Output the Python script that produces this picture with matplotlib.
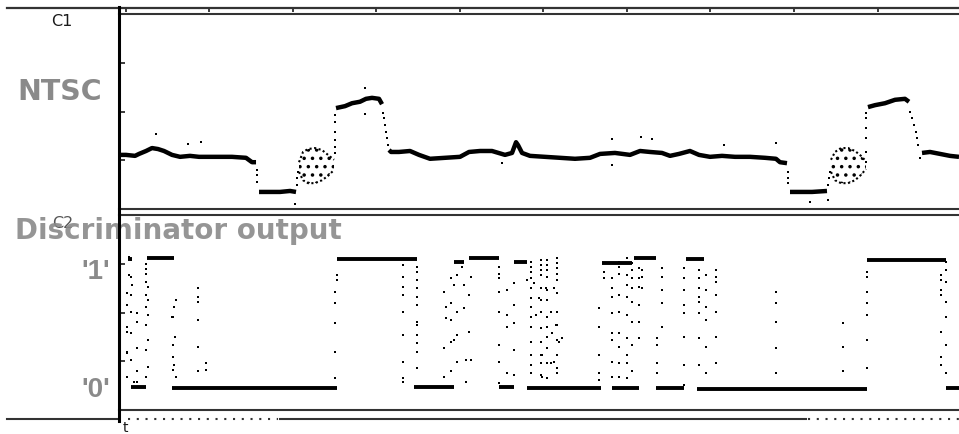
import numpy as np
import matplotlib
matplotlib.use("Agg")
import matplotlib.pyplot as plt
from matplotlib.lines import Line2D

nan = np.nan

# channel 1: NTSC line, time in microseconds, amplitude in divisions
ntsc_t = [-0.84, 0.00, 1.08, 1.56, 2.40, 3.11, 3.83, 4.55, 5.51, 6.47, 7.66, 8.74,
          10.06, 11.26, 12.69, 14.37, 15.09, 15.57, nan,
          15.93, 17.25, 18.44, 19.64, 20.36, nan,
          25.15, 26.23, 27.07, 28.02, 28.74, 29.46, 30.30, 30.66, nan,
          31.50, 31.74, 32.69, 34.01, 35.09, 36.41, 38.20, 40.00, 41.08, 42.40,
          43.83, 45.39, 46.23, 46.71, 46.95, 47.43, 48.38, 50.18, 51.98, 53.77,
          55.57, 56.77, 58.56, 60.36, 61.56, 62.75, 64.19, 65.15, 66.23, 67.54,
          68.62, 69.94, 71.38, 72.93, 74.73, 76.53, 77.84, 78.32, 79.16, nan,
          79.52, 80.72, 82.16, 83.95, nan,
          88.86, 89.70, 90.90, 92.10, 93.29, 93.77, nan,
          95.33, 96.29, 97.49, 98.68, 99.76]
ntsc_v = [1.11, 1.11, 1.09, 1.13, 1.19, 1.25, 1.23, 1.19, 1.11, 1.07, 1.09, 1.07,
          1.07, 1.07, 1.07, 1.05, 0.96, 0.96, nan,
          0.35, 0.35, 0.35, 0.37, 0.35, nan,
          2.07, 2.11, 2.17, 2.20, 2.26, 2.28, 2.26, 2.15, nan,
          1.21, 1.17, 1.17, 1.19, 1.11, 1.03, 1.05, 1.07, 1.17, 1.19,
          1.19, 1.11, 1.15, 1.37, 1.31, 1.15, 1.09, 1.07, 1.05, 1.03,
          1.05, 1.13, 1.15, 1.11, 1.19, 1.17, 1.15, 1.09, 1.13, 1.19,
          1.11, 1.07, 1.09, 1.07, 1.07, 1.05, 1.03, 0.96, 0.94, nan,
          0.35, 0.35, 0.35, 0.37, nan,
          2.09, 2.13, 2.17, 2.24, 2.26, 2.20, nan,
          1.15, 1.17, 1.13, 1.09, 1.07]

# colour burst envelopes (t, upper, lower)
burst1_t = [20.72, 21.20, 21.80, 22.63, 23.47, 24.19, 24.91]
burst1_hi = [0.96, 1.17, 1.23, 1.25, 1.21, 1.11, 1.01]
burst1_lo = [0.76, 0.59, 0.53, 0.53, 0.59, 0.68, 0.80]
burst2_t = [84.43, 84.91, 85.63, 86.47, 87.31, 88.02, 88.62]
burst2_hi = [1.01, 1.17, 1.25, 1.25, 1.19, 1.09, 0.98]
burst2_lo = [0.76, 0.59, 0.53, 0.53, 0.59, 0.70, 0.82]

# single samples on the edges and stray points
ntsc_dots = [(15.69, 0.80), (15.69, 0.70), (15.69, 0.55),
             (20.48, 0.49), (20.48, 0.64), (20.60, 0.76),
             (25.03, 1.15), (25.03, 1.27), (25.03, 1.42), (25.03, 1.58), (25.03, 1.78), (25.03, 1.93),
             (30.78, 1.97), (30.90, 1.87), (31.02, 1.72), (31.14, 1.58), (31.26, 1.46), (31.38, 1.31),
             (79.28, 0.76), (79.28, 0.64), (79.28, 0.53),
             (84.07, 0.49), (84.19, 0.64), (84.31, 0.76),
             (88.62, 0.96), (88.62, 1.17), (88.62, 1.46), (88.62, 1.66), (88.62, 1.87), (88.62, 1.97),
             (93.89, 1.99), (94.13, 1.87), (94.37, 1.72), (94.61, 1.58), (94.73, 1.46), (94.85, 1.31),
             (95.09, 1.05),
             (3.59, 1.54), (7.43, 1.33), (8.98, 1.37), (28.62, 2.48), (28.62, 1.95), (77.84, 1.35),
             (63.0, 1.44), (58.2, 1.44), (61.7, 1.48), (58.2, 0.90), (45.0, 0.94), (20.2, 0.10),
             (81.9, 0.14), (84.1, 0.18), (71.6, 1.31)]

# channel 2: discriminator output, settled '1' and '0' stretches (t0, t1, level)
disc_high = [(0.24, 0.72, 3.10), (2.51, 5.75, 3.12), (25.27, 34.85, 3.10), (39.28, 40.48, 3.04),
             (41.08, 44.67, 3.12), (46.47, 48.02, 3.04), (57.00, 60.60, 3.01), (60.84, 63.47, 3.12),
             (67.07, 69.22, 3.10), (88.74, 98.20, 3.08)]
disc_low = [(0.60, 2.40, 0.47), (5.51, 25.27, 0.45), (34.49, 39.28, 0.47), (44.67, 46.47, 0.47),
            (48.02, 56.89, 0.45), (58.20, 61.44, 0.45), (63.47, 66.83, 0.45), (68.38, 88.74, 0.43),
            (98.20, 99.76, 0.45)]

# samples caught during transitions: (t, levels)
disc_edges = [
    (0.16, [2.39, 2.15, 1.71, 1.61, 1.20, 1.16, 0.68]),
    (0.36, [3.14, 2.77]),
    (0.56, [3.08, 2.73, 2.36, 2.02, 1.57, 1.03]),
    (0.76, [2.56]), (0.96, [0.58]),
    (1.36, [1.98, 1.81, 1.27, 0.79, 0.58]),
    (2.40, [2.63, 2.36, 2.12, 1.74, 1.23, 0.68]),
    (2.44, [3.00, 2.90, 2.80]),
    (2.63, [2.53, 2.26, 1.95, 1.44, 0.89]),
    (5.51, [1.91]), (5.63, [1.91, 1.33, 1.09, 0.82]), (5.75, [2.12, 0.92]),
    (5.87, [1.50]), (5.99, [2.26, 0.68]),
    (8.62, [2.50, 2.32, 2.22, 1.85, 1.30, 0.79]),
    (9.58, [0.96, 0.82]),
    (25.03, [2.43, 2.19, 1.78, 1.20, 0.65]), (25.31, [2.77, 2.67]),
    (33.17, [2.97, 2.73, 2.53, 2.36, 2.02, 1.54, 0.99, 0.65, 0.58]),
    (34.89, [2.94, 2.84, 2.67, 2.50, 2.32, 2.15, 1.81, 1.74, 1.54, 1.37, 1.20, 0.86]),
    (38.08, [2.43, 1.27, 0.68]), (38.28, [2.12, 1.88]),
    (38.88, [2.70, 2.19, 1.85, 1.40, 0.79]), (39.28, [2.56, 1.44]),
    (39.68, [2.77, 2.02, 1.54, 0.99]), (40.28, [2.94]), (40.48, [2.56, 2.09]),
    (40.68, [1.03, 0.58]), (41.08, [2.36, 1.61]), (41.28, [2.73, 1.03]),
    (44.67, [2.94, 2.80, 2.70, 2.43, 2.02, 1.33, 0.99, 0.55]),
    (45.67, [2.46, 1.95, 1.71, 0.75]),
    (46.47, [2.60, 2.15, 1.78, 1.23, 0.72]),
    (48.06, [2.67]), (48.86, [2.60]), (49.06, [1.95]), (49.46, [2.29]),
    (48.46, [3.04, 2.94, 2.84, 2.70, 2.50, 2.29, 2.12, 1.91, 1.71, 1.40, 1.13, 0.92, 0.75]),
    (49.66, [3.08, 2.97, 2.87, 2.77, 2.50, 2.26, 2.02, 1.68, 1.40, 1.13, 0.96, 0.72]),
    (49.86, [1.13, 0.68]), (50.26, [2.50]),
    (50.46, [3.08, 2.97, 2.87, 2.73, 2.46, 2.26, 1.91, 1.71, 1.50, 1.27, 0.96, 0.65]),
    (50.86, [2.02, 0.96]), (51.06, [1.57]), (51.26, [2.50, 0.99]), (51.46, [1.74]),
    (51.66, [3.11, 3.01, 2.91, 2.80, 2.67, 2.39, 2.02, 1.74, 1.44, 1.13, 0.86, 0.75]),
    (51.86, [1.40]), (52.26, [1.47]),
    (56.65, [2.09, 1.71, 1.13, 0.75, 0.62]),
    (57.25, [2.84, 2.70]),
    (58.20, [2.70, 2.50, 2.32, 1.98, 1.57, 1.44, 0.99, 0.68]),
    (59.04, [3.04, 2.94, 2.80, 2.36, 2.02, 1.57, 1.30, 0.96, 0.68]),
    (60.04, [3.11, 2.77, 2.56, 2.32, 1.95, 1.47, 1.13, 0.96, 0.65]),
    (60.64, [3.01, 2.87, 2.70, 2.50, 2.22, 1.81, 1.33, 0.79]),
    (61.44, [2.91, 2.70, 2.53, 2.15, 1.81, 1.47]),
    (61.84, [2.87, 2.73, 2.50]),
    (63.63, [1.47, 1.33, 0.96, 0.75]),
    (64.23, [2.91, 2.73, 2.46, 2.19, 1.71]),
    (66.83, [2.91, 2.70, 2.46, 2.15, 1.98, 1.50, 0.92, 0.51]),
    (68.62, [2.87, 2.70, 2.50, 2.32, 2.22, 1.98, 1.47, 0.92]),
    (69.42, [2.77, 2.46, 2.12, 1.85, 1.30, 0.75]),
    (70.62, [2.87, 2.73, 2.63, 2.36, 2.02, 1.50, 0.96]),
    (77.88, [2.43, 2.19, 1.81, 1.27, 0.75]),
    (85.91, [1.78, 1.30, 0.79]),
    (88.70, [2.84, 2.73, 2.43, 2.19, 1.95, 1.44, 0.86]),
    (97.56, [2.77, 2.67, 2.46, 2.36, 1.61, 1.09, 0.92]),
    (98.16, [3.04, 2.87, 2.63, 2.22, 1.91, 1.33, 0.75]),
]

time_ticks = np.arange(0, 100, 10)
div_ticks = [1, 2, 3]

W, H = 959, 434
ink = "#1a1a1a"
frame = "#333333"
label_grey = "#8a8a8a"


def fx(px):
    return px / W


def fy(py):
    return 1 - py / H


plt.rcParams["hatch.linewidth"] = 1.3

fig = plt.figure(figsize=(W / 100, H / 100), dpi=100)

ax1 = fig.add_axes([fx(119), fy(209), fx(W - 119), (209 - 14) / H])
ax2 = fig.add_axes([fx(119), fy(410), fx(W - 119), (410 - 215) / H])

for ax in (ax1, ax2):
    ax.set_xlim(-0.84, 99.76)
    ax.set_ylim(0, 4)
    ax.set_xticks([])
    ax.set_yticks(div_ticks)
    ax.set_yticklabels([])
    ax.tick_params(axis="y", direction="in", length=4, width=1.2, color=ink)
    ax.spines["left"].set_visible(False)
    ax.spines["right"].set_visible(False)
    for s in ("top", "bottom"):
        ax.spines[s].set_linewidth(1.5)
        ax.spines[s].set_color(frame)

# NTSC trace
ax1.plot(ntsc_t, ntsc_v, color="k", lw=3.2, solid_capstyle="butt")
for bt, bh, bl in ((burst1_t, burst1_hi, burst1_lo), (burst2_t, burst2_hi, burst2_lo)):
    ax1.fill_between(bt, bl, bh, facecolor="none", edgecolor="k", hatch="..", lw=0)
    ax1.plot(bt, bh, color="k", lw=1.5, ls=(0, (1, 1.2)))
    ax1.plot(bt, bl, color="k", lw=1.5, ls=(0, (1, 1.2)))
dt, dv = zip(*ntsc_dots)
ax1.plot(dt, dv, "s", color="k", ms=1.7, mew=0)

# discriminator trace
for t0, t1, lv in disc_high + disc_low:
    ax2.hlines(lv, t0, t1, color="k", lw=2.8)
et = [t for t, lv in disc_edges for _ in lv]
ev = [v for _, lv in disc_edges for v in lv]
ax2.plot(et, ev, "s", color="k", ms=1.7, mew=0)

# time ruler along the top
axr = fig.add_axes([fx(7), fy(7.5), fx(W - 7), 1e-4])
axr.set_xlim(-14.25, 99.76)
axr.set_ylim(0, 1)
for s in ("top", "left", "right"):
    axr.spines[s].set_visible(False)
axr.spines["bottom"].set_linewidth(1.6)
axr.spines["bottom"].set_color(frame)
axr.set_yticks([])
axr.set_xticks(time_ticks)
axr.tick_params(axis="x", direction="out", length=3.2, width=1.2, labelbottom=False, color=ink)

# left edge and record bar at the bottom
fig.add_artist(Line2D([fx(118.5)] * 2, [fy(7), fy(421)], color="k", lw=2.2, zorder=5))
fig.add_artist(Line2D([fx(7), fx(118)], [fy(419)] * 2, color=frame, lw=1.5))
fig.add_artist(Line2D([fx(128), fx(278)], [fy(419)] * 2, color=frame, lw=1.5, ls=(0, (1, 3.2))))
fig.add_artist(Line2D([fx(280), fx(806)], [fy(419)] * 2, color=frame, lw=1.5))
fig.add_artist(Line2D([fx(808), fx(W)], [fy(419)] * 2, color=frame, lw=1.5, ls=(0, (1, 3.2))))

# labels
fig.text(fx(17), fy(100), "NTSC", ha="left", va="baseline", fontsize=20.5,
         weight="bold", family="DejaVu Sans", color=label_grey)
fig.text(fx(63), fy(224), "C2", ha="center", va="center", fontsize=11.5,
         family="DejaVu Sans", color="#555555")
fig.text(fx(15), fy(239), "Discriminator output", ha="left", va="baseline", fontsize=20,
         weight="bold", family="DejaVu Sans", color=label_grey, alpha=0.9)
fig.text(fx(110), fy(279), "'1'", ha="right", va="baseline", fontsize=20,
         weight="bold", family="Liberation Sans", color=label_grey)
fig.text(fx(110), fy(397), "'0'", ha="right", va="baseline", fontsize=20,
         weight="bold", family="Liberation Sans", color=label_grey)
fig.text(fx(62), fy(21.5), "C1", ha="center", va="center", fontsize=11.5,
         family="DejaVu Sans", color=ink)
fig.text(fx(125), fy(428), "t", ha="center", va="center", fontsize=10,
         family="DejaVu Sans", color=ink)

fig.savefig("out.png", dpi=100)
